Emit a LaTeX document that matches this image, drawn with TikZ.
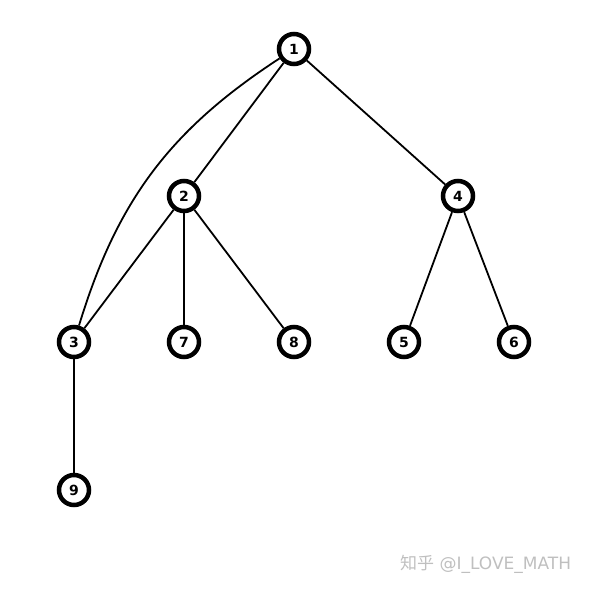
\documentclass[tikz,border=0pt]{standalone}
\usepackage{fontspec}
\setmainfont{DejaVu Sans}
\newfontfamily\cjk{Noto Sans CJK SC}
\begin{document}
\begin{tikzpicture}[x=1pt,y=-1pt,
  vert/.style={circle,draw=black,line width=4.5pt,fill=white,minimum size=30pt,inner sep=0pt,font=\bfseries\fontsize{14}{14}\selectfont},
  edge/.style={line width=1.8pt}]
\useasboundingbox (0,0) rectangle (589,589);
\node[vert] (n1) at (294,49) {1};
\node[vert] (n2) at (184,196) {2};
\node[vert] (n4) at (458,196) {4};
\node[vert] (n3) at (74,342) {3};
\node[vert] (n7) at (184,342) {7};
\node[vert] (n8) at (294,342) {8};
\node[vert] (n5) at (404,342) {5};
\node[vert] (n6) at (514,342) {6};
\node[vert] (n9) at (74,490) {9};
\draw[edge] (n1) -- (n2);
\draw[edge] (n1) -- (n4);
\draw[edge] (n1) to[bend right=20] (n3);
\draw[edge] (n2) -- (n3);
\draw[edge] (n2) -- (n7);
\draw[edge] (n2) -- (n8);
\draw[edge] (n4) -- (n5);
\draw[edge] (n4) -- (n6);
\draw[edge] (n3) -- (n9);
\node[text=black!25,font=\fontsize{17}{17}\selectfont,anchor=west,inner sep=0pt] (wm) at (400,564) {{\cjk 知乎} @I\_LOVE\_MATH};
\end{tikzpicture}
\end{document}
